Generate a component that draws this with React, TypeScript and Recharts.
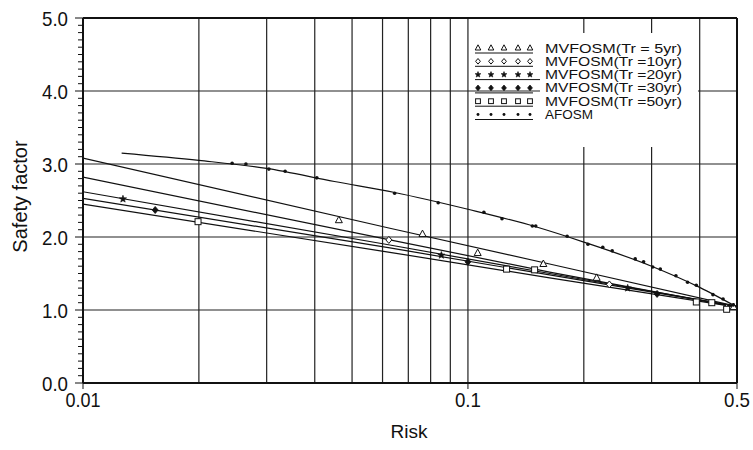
import { ComposedChart, Line, Scatter, XAxis, YAxis, ReferenceLine } from 'recharts';

// risk (exceedance probability) vs. safety factor
const riskGrid = [0.02, 0.03, 0.04, 0.05, 0.06, 0.07, 0.08, 0.09, 0.1, 0.2, 0.3, 0.4];
const factorGrid = [1, 2, 3, 4];
const riskTicks = [0.01, 0.1, 0.5];
const riskTickLabels = ['0.01', '0.1', '0.5'];
const factorTickLabels = ['0.0', '1.0', '2.0', '3.0', '4.0', '5.0'];

const seriesNames = [
  'MVFOSM(Tr =  5yr)',
  'MVFOSM(Tr =10yr)',
  'MVFOSM(Tr =20yr)',
  'MVFOSM(Tr =30yr)',
  'MVFOSM(Tr =50yr)',
  'AFOSM',
];

// fitted MVFOSM lines
const fitRisk = [0.01, 0.0627, 0.163, 0.5];
const fitTr5 = [3.08, 2.12, 1.63, 1.05];
const fitTr10 = [2.82, 1.96, 1.52, 1.04];
const fitTr20 = [2.62, 1.89, 1.5, 1.05];
const fitTr30 = [2.53, 1.85, 1.48, 1.05];
const fitTr50 = [2.45, 1.79, 1.44, 1.04];

// AFOSM curve
const afosmCurveRisk = [0.0126, 0.02, 0.03, 0.045, 0.0645, 0.1, 0.15, 0.2, 0.3, 0.4, 0.5];
const afosmCurveFactor = [3.15, 3.05, 2.94, 2.76, 2.61, 2.38, 2.14, 1.93, 1.6, 1.31, 1.04];

// plotted points
const tr5Risk = [0.0462, 0.0762, 0.106, 0.157, 0.216, 0.49];
const tr5Factor = [2.23, 2.04, 1.78, 1.63, 1.44, 1.04];
const tr10Risk = [0.0623, 0.233, 0.47];
const tr10Factor = [1.96, 1.35, 1.03];
const tr20Risk = [0.0127, 0.0853, 0.26];
const tr20Factor = [2.52, 1.75, 1.3];
const tr30Risk = [0.0154, 0.1, 0.31];
const tr30Factor = [2.37, 1.66, 1.22];
const tr50Risk = [0.0199, 0.126, 0.149, 0.392, 0.43, 0.47];
const tr50Factor = [2.21, 1.56, 1.55, 1.11, 1.1, 1.01];
const afosmRisk = [
  0.0244, 0.0265, 0.0304, 0.0335, 0.0405, 0.0645, 0.0837, 0.11, 0.1226, 0.147, 0.15, 0.181,
  0.205, 0.224, 0.237, 0.272, 0.286, 0.302, 0.316, 0.347, 0.372, 0.392, 0.433, 0.46, 0.489,
];
const afosmFactor = [
  3.01, 3.0, 2.93, 2.9, 2.81, 2.6, 2.47, 2.34, 2.25, 2.15, 2.15, 2.01,
  1.9, 1.86, 1.81, 1.7, 1.66, 1.59, 1.56, 1.47, 1.38, 1.34, 1.21, 1.15, 1.07,
];

const zip = (xs: number[], ys: number[]) => xs.map((x, i) => ({ x, y: ys[i] }));

const fits = [fitTr5, fitTr10, fitTr20, fitTr30, fitTr50].map((ys) => zip(fitRisk, ys));
const afosmCurve = zip(afosmCurveRisk, afosmCurveFactor);

const INK = '#111';
const FONT = '"Liberation Sans", Arial, sans-serif';

type MarkProps = { cx?: number; cy?: number; s?: number };

const Triangle = ({ cx = 0, cy = 0, s = 1 }: MarkProps) => (
  <path
    d={`M${cx},${cy - 4 * s} L${cx + 3.5 * s},${cy + 2.5 * s} L${cx - 3.5 * s},${cy + 2.5 * s} Z`}
    fill="#fff"
    stroke={INK}
    strokeWidth={1}
  />
);
const Diamond = ({ cx = 0, cy = 0, s = 1 }: MarkProps) => (
  <path
    d={`M${cx},${cy - 3.5 * s} L${cx + 3 * s},${cy} L${cx},${cy + 3.5 * s} L${cx - 3 * s},${cy} Z`}
    fill="#fff"
    stroke={INK}
    strokeWidth={1}
  />
);
const Star = ({ cx = 0, cy = 0, s = 1 }: MarkProps) => {
  const pts: string[] = [];
  for (let i = 0; i < 10; i++) {
    const r = (i % 2 === 0 ? 3.8 : 1.6) * s;
    const a = -Math.PI / 2 + (i * Math.PI) / 5;
    pts.push(`${cx + r * Math.cos(a)},${cy + r * Math.sin(a)}`);
  }
  return <polygon points={pts.join(' ')} fill={INK} stroke={INK} strokeWidth={0.6} />;
};
const SolidDiamond = ({ cx = 0, cy = 0, s = 1 }: MarkProps) => (
  <path
    d={`M${cx},${cy - 3.5 * s} L${cx + 3 * s},${cy} L${cx},${cy + 3.5 * s} L${cx - 3 * s},${cy} Z`}
    fill={INK}
    stroke={INK}
    strokeWidth={0.8}
  />
);
const Square = ({ cx = 0, cy = 0, s = 1 }: MarkProps) => (
  <rect x={cx - 3 * s} y={cy - 3 * s} width={6 * s} height={6 * s} fill="#fff" stroke={INK} strokeWidth={1} />
);
const Dot = ({ cx = 0, cy = 0, s = 1 }: MarkProps) => <circle cx={cx} cy={cy} r={1.8 * s} fill={INK} />;

const markers = [Triangle, Diamond, Star, SolidDiamond, Square, Dot];

const points = [
  zip(tr5Risk, tr5Factor),
  zip(tr10Risk, tr10Factor),
  zip(tr20Risk, tr20Factor),
  zip(tr30Risk, tr30Factor),
  zip(tr50Risk, tr50Factor),
  zip(afosmRisk, afosmFactor),
];

const factorTicks = Array.from({ length: 51 }, (_, i) => i / 10);

// condensed-looking tick text: tall glyphs squeezed to a set width
const FactorTick = (props: any) => {
  const { x, y, payload } = props;
  const v = payload.value as number;
  const major = Math.abs(v - Math.round(v)) < 1e-6;
  return (
    <g>
      <line x1={x - (major ? 8 : 5)} x2={x} y1={y} y2={y} stroke={INK} strokeWidth={1} />
      {major && (
        <text
          x={x - 15}
          y={y}
          dy="0.36em"
          textAnchor="end"
          fontSize={21}
          textLength={26}
          lengthAdjust="spacingAndGlyphs"
          fontFamily={FONT}
          fill={INK}
        >
          {factorTickLabels[Math.round(v)]}
        </text>
      )}
    </g>
  );
};

const RiskTick = (props: any) => {
  const { x, y, payload } = props;
  const i = riskTicks.indexOf(payload.value);
  const label = riskTickLabels[i] ?? String(payload.value);
  return (
    <text
      x={x}
      y={y}
      dy="0.71em"
      textAnchor="middle"
      fontSize={21}
      textLength={label.length > 3 ? 35 : 26}
      lengthAdjust="spacingAndGlyphs"
      fontFamily={FONT}
      fill={INK}
    >
      {label}
    </text>
  );
};

const FactorTitle = (props: any) => {
  const { viewBox } = props;
  const cx = viewBox.x - 3;
  const cy = viewBox.y + viewBox.height / 2 - 4;
  return (
    <text
      x={cx}
      y={cy}
      dy="0.36em"
      textAnchor="middle"
      transform={`rotate(-90, ${cx}, ${cy})`}
      fontSize={20}
      fontFamily={FONT}
      fill={INK}
    >
      Safety factor
    </text>
  );
};

const RiskTitle = (props: any) => {
  const { viewBox } = props;
  const cx = viewBox.x + viewBox.width / 2 - 1;
  const cy = viewBox.y + 48;
  return (
    <text x={cx} y={cy} dy="0.36em" textAnchor="middle" fontSize={19} fontFamily={FONT} fill={INK}>
      Risk
    </text>
  );
};

function LegendBox() {
  const rowTop = 48;
  const rowGap = 13.3;
  const sampleX = [478, 491, 504, 518, 530];
  return (
    <svg width={753} height={450} style={{ position: 'absolute', left: 0, top: 0, pointerEvents: 'none' }}>
      <rect x={540} y={33} width={158} height={114} fill="#fff" />
      {seriesNames.map((name, i) => {
        const y = rowTop + i * rowGap;
        const Mark = markers[i];
        return (
          <g key={name}>
            {sampleX.map((sx) => (
              <Mark key={sx} cx={sx} cy={y} s={0.8} />
            ))}
            <line x1={475} x2={i === 2 ? 540 : 533} y1={y + 5} y2={y + 5} stroke={INK} strokeWidth={1} />
            <text
              x={545}
              y={y}
              dy="0.36em"
              fontSize={12.5}
              textLength={name === 'AFOSM' ? 48 : 137}
              lengthAdjust="spacingAndGlyphs"
              fontFamily={FONT}
              fill={INK}
            >
              {name}
            </text>
          </g>
        );
      })}
    </svg>
  );
}

export default function App() {
  return (
    <div style={{ position: 'absolute', left: 0, top: 0, width: 753, height: 450, background: '#fff' }}>
      <ComposedChart width={753} height={450} margin={{ top: 18, right: 16, bottom: 37, left: 23 }}>
        <XAxis
          dataKey="x"
          type="number"
          scale="log"
          domain={[0.01, 0.5]}
          allowDataOverflow
          ticks={riskTicks}
          tick={<RiskTick />}
          tickSize={6}
          tickMargin={3}
          tickLine={{ stroke: INK }}
          axisLine={{ stroke: INK, strokeWidth: 2 }}
          height={30}
          label={<RiskTitle />}
        />
        <YAxis
          dataKey="y"
          type="number"
          domain={[0, 5]}
          ticks={factorTicks}
          interval={0}
          tick={<FactorTick />}
          tickSize={0}
          tickMargin={0}
          tickLine={false}
          axisLine={{ stroke: INK, strokeWidth: 2 }}
          width={60}
          label={<FactorTitle />}
        />
        {riskGrid.map((r) => (
          <ReferenceLine key={`vx${r}`} x={r} stroke="#222" strokeWidth={1.2} />
        ))}
        {factorGrid.map((f) => (
          <ReferenceLine key={`hy${f}`} y={f} stroke="#222" strokeWidth={1.2} />
        ))}
        <ReferenceLine x={0.5} stroke={INK} strokeWidth={2} />
        <ReferenceLine y={5} stroke={INK} strokeWidth={2} />
        {fits.map((d, i) => (
          <Line
            key={`fit${i}`}
            data={d}
            dataKey="y"
            type="linear"
            stroke={INK}
            strokeWidth={1.2}
            dot={false}
            activeDot={false}
            isAnimationActive={false}
          />
        ))}
        <Line
          data={afosmCurve}
          dataKey="y"
          type="monotone"
          stroke={INK}
          strokeWidth={1.2}
          dot={false}
          activeDot={false}
          isAnimationActive={false}
        />
        {points.map((d, i) => {
          const Mark = markers[i];
          return (
            <Scatter
              key={seriesNames[i]}
              name={seriesNames[i]}
              data={d}
              dataKey="y"
              shape={(p: any) => <Mark cx={p.cx} cy={p.cy} />}
              isAnimationActive={false}
            />
          );
        })}
      </ComposedChart>
      <LegendBox />
    </div>
  );
}
